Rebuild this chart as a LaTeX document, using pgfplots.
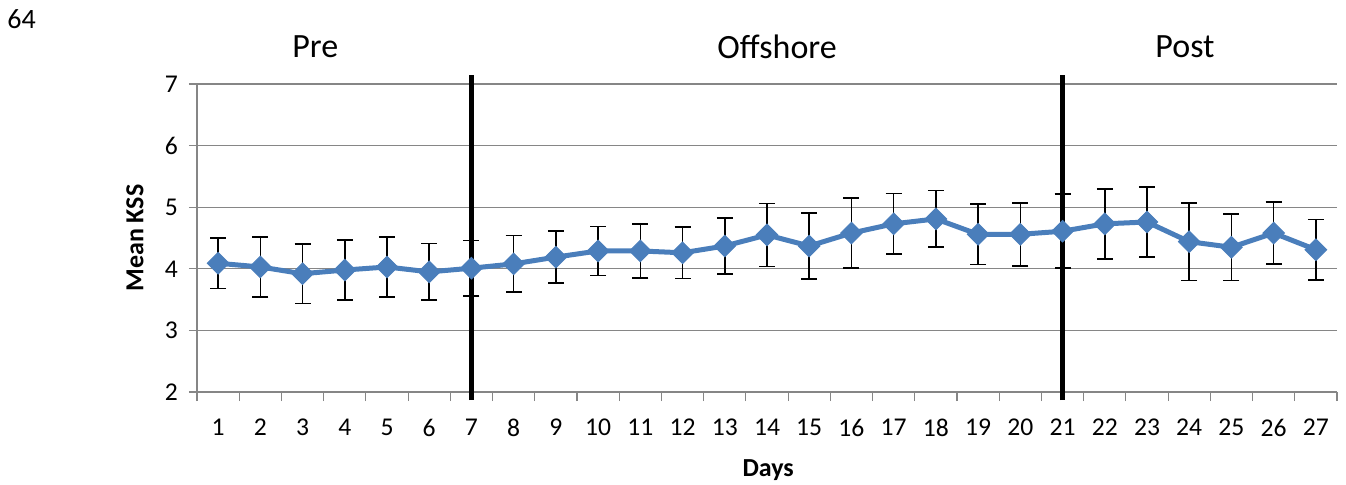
\documentclass[border=0pt]{standalone}
\usepackage{pgfplots}
\pgfplotsset{compat=1.18}
\usepackage{fontspec}
\setmainfont{Carlito}
\definecolor{kssblue}{RGB}{74,126,187}
\definecolor{gridgray}{RGB}{134,134,134}
\pgfplotstableread{
x y e
1 4.09 0.41
2 4.03 0.49
3 3.92 0.48
4 3.98 0.49
5 4.03 0.49
6 3.95 0.46
7 4.01 0.45
8 4.08 0.46
9 4.19 0.42
10 4.29 0.40
11 4.29 0.44
12 4.26 0.42
13 4.37 0.45
14 4.55 0.51
15 4.37 0.54
16 4.58 0.57
17 4.73 0.49
18 4.81 0.46
19 4.56 0.49
20 4.56 0.51
21 4.61 0.60
22 4.73 0.57
23 4.76 0.57
24 4.44 0.63
25 4.35 0.54
26 4.58 0.50
27 4.31 0.49
}\kss
\begin{document}
\begin{tikzpicture}
\path[use as bounding box] (-98.5pt,-46pt) rectangle (574.5pt,196pt);
\begin{axis}[
  at={(0,0)}, anchor=south west,
  scale only axis, width=570pt, height=154pt,
  xmin=0.5, xmax=27.5, ymin=2, ymax=7,
  xtick={1,...,27}, ytick={2,...,7},
  minor xtick={0.5,1.5,...,27.5},
  axis x line*=bottom, axis y line*=left,
  axis line style={gridgray, line width=0.6pt, -},
  tick align=outside,
  major tick length=4pt, minor tick length=4.5pt,
  major x tick style={draw=none},
  minor x tick style={gridgray, line width=0.6pt},
  major y tick style={gridgray, line width=0.6pt},
  ymajorgrids, grid style={gridgray, line width=0.6pt},
  tick label style={font=\fontsize{12.8}{15}\selectfont},
  /pgf/number format/assume math mode=true,
  xticklabel style={yshift=-6pt},
  yticklabel style={xshift=-2pt},
  xlabel={Days}, ylabel={Mean KSS},
  label style={font=\fontsize{13}{15}\selectfont\bfseries},
  xlabel style={at={(axis description cs:0.501,0)}, anchor=center, yshift=-39pt},
  ylabel style={at={(axis description cs:-0.0544,0.5)}, anchor=center},
  clip=false,
]
\addplot[black, line width=2.5pt, forget plot] coordinates {(7,1.87) (7,7.15)};
\addplot[black, line width=2.5pt, forget plot] coordinates {(21,1.87) (21,7.15)};
\addplot[kssblue, line width=2.5pt, mark=square*, mark size=3.8pt,
  mark options={rotate=45, fill=kssblue, draw=kssblue, line width=0.5pt},
  error bars/.cd, y dir=both, y explicit,
  error bar style={black, line width=0.8pt},
  error mark options={black, line width=0.8pt, mark size=4pt, rotate=90}]
  table[x=x, y=y, y error=e] {\kss};
\node[font=\fontsize{17}{20}\selectfont] at (axis cs:3.3,7.6) {Pre};
\node[font=\fontsize{17}{20}\selectfont] at (axis cs:14.24,7.6) {Offshore};
\node[font=\fontsize{17}{20}\selectfont] at (axis cs:23.9,7.6) {Post};
\end{axis}
\node[font=\fontsize{14}{16}\selectfont] at (-87.75pt,186.5pt) {64};
\end{tikzpicture}
\end{document}
